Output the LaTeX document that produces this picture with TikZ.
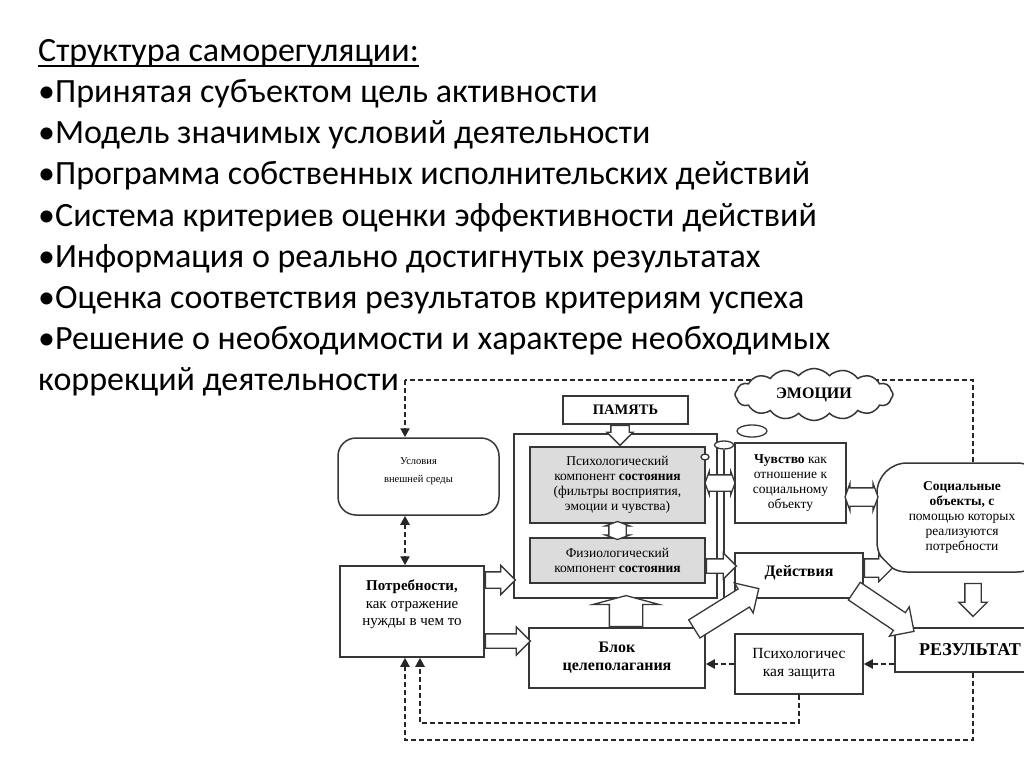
\documentclass[tikz,border=0pt]{standalone}
\usepackage{fontspec}
\setmainfont{Carlito}
\newfontfamily\dfont{Liberation Serif}
\usepackage{tikz}
\usetikzlibrary{positioning,arrows.meta,shapes.geometric,shapes.arrows,shapes.symbols,calc,backgrounds}
\definecolor{boxgray}{RGB}{55,55,55}
\definecolor{fillgray}{RGB}{220,220,220}
\newcommand\ultitle[1]{\setbox0\hbox{#1}\rlap{\rule[-5pt]{\wd0}{1.8pt}}\box0}

\begin{document}
\begin{tikzpicture}[x=1pt, y=-1pt, >={Triangle[length=9pt,width=9pt]},
  blk/.style={rectangle, draw=boxgray, line width=1.5pt, fill=white, align=center, inner sep=2pt, font=\dfont\fontsize{13.5}{15}\selectfont},
  greyblk/.style={blk, fill=fillgray},
  dashln/.style={draw=black!85, line width=2.2pt, dash pattern=on 5pt off 3pt},
  fatarr/.style={single arrow, draw=boxgray, line width=1.3pt, fill=white, inner xsep=0pt, anchor=tail},
  fatdarr/.style={double arrow, draw=boxgray, line width=1.3pt, fill=white, inner xsep=0pt, double arrow tip angle=140},
  smallell/.style={ellipse, draw=boxgray, line width=1.3pt, fill=white, inner sep=0pt}]
  \useasboundingbox (0,0) rectangle (1024,767);

  % text list
  \node[anchor=base west, inner sep=0pt, font=\fontsize{34}{41}\selectfont] (title) at (38,62) {\ultitle{Структура саморегуляции:}};
  \foreach \ln [count=\i] in {•Принятая субъектом цель активности, •Модель значимых условий деятельности, •Программа собственных исполнительских действий, •Система критериев оценки эффективности действий, •Информация о реально достигнутых результатах, •Оценка соответствия результатов критериям успеха, •Решение о необходимости и характере необходимых, коррекций деятельности}
    \node[anchor=base west, inner sep=0pt, font=\fontsize{34}{41}\selectfont] (line\i) at (38,62+41*\i) {\ln};

  % boxes
  \node[blk, rounded corners=18pt, minimum width=161, minimum height=77, font=\dfont\fontsize{10.5}{18}\selectfont] (usl) at (418.5,476.5) {Условия\\внешней среды\\[-6pt]\mbox{}};
  \node[blk, minimum width=125, minimum height=28, font=\dfont\bfseries\fontsize{14.5}{16}\selectfont] (pamyat) at (625.5,410) {ПАМЯТЬ};
  \node[blk, minimum width=203, minimum height=164] (sost) at (615.5,516) {};
  \node[greyblk, minimum width=175, minimum height=76] (psych) at (617.5,485) {Психологический\\компонент \textbf{состояния}\\(фильтры восприятия,\\эмоции и чувства)};
  \node[greyblk, minimum width=175, minimum height=45] (fiz) at (617.5,560.5) {Физиологический\\компонент \textbf{состояния}};
  \node[blk, minimum width=144, minimum height=91, font=\dfont\fontsize{15}{17.5}\selectfont] (potr) at (412,611.5) {\textbf{Потребности,}\\как отражение\\нужды в чем то\\\mbox{}};
  \node[blk, minimum width=176, minimum height=60, font=\dfont\bfseries\fontsize{16}{18}\selectfont] (blok) at (617,658) {Блок\\целеполагания};
  \node[blk, minimum width=111, minimum height=80] (chuv) at (790.5,483) {\textbf{Чувство} как\\отношение к\\социальному\\объекту};
  \node[blk, minimum width=128, minimum height=45, font=\dfont\bfseries\fontsize{16}{18}\selectfont] (deyst) at (799,575.5) {Действия\\[-8pt]\mbox{}};
  \node[blk, minimum width=128, minimum height=60, font=\dfont\fontsize{15.5}{18}\selectfont] (zash) at (799,664) {Психологичес\\кая защита};
  \node[blk, rounded corners=30pt, minimum width=170, minimum height=109] (soc) at (962,517.5) {\textbf{Социальные}\\\textbf{объекты, с}\\помощью которых\\реализуются\\потребности};
  \node[blk, minimum width=150, minimum height=44, font=\dfont\bfseries\fontsize{18}{20}\selectfont] (rez) at (970,650) {РЕЗУЛЬТАТ};
  \node[cloud, draw=boxgray, line width=1.5pt, fill=white, cloud puffs=16, cloud puff arc=100, aspect=3.2, minimum width=158, minimum height=52, inner sep=0pt, font=\dfont\bfseries\fontsize{16}{18}\selectfont] (emo) at (814,394.5) {ЭМОЦИИ};
  \node[smallell, minimum width=30, minimum height=12] (bub) at (752,431) {};
  \node[smallell, minimum width=19, minimum height=8] (cap) at (724,445) {};
  \node[smallell, minimum width=8, minimum height=6] (knot) at (705,457) {};
  \draw[boxgray, line width=1.3pt] (cap.south) -- (cap.south |- sost.south);

  % block arrows
  \node[fatarr, rotate=270, minimum height=20, inner ysep=8.5pt, single arrow head extend=4] (a1) at ([xshift=-5.5pt]pamyat.south) {};
  \node[fatdarr, rotate=90, minimum height=18, inner ysep=8pt, double arrow head extend=3.5] (a2) at ($(psych.south)!0.5!(fiz.north)$) {};
  \node[fatarr, minimum height=30, inner ysep=7.5pt, single arrow head extend=6.5] (a3) at ([yshift=31.5pt]potr.east) {};
  \node[fatarr, minimum height=45, inner ysep=6.5pt, single arrow head extend=7] (a4) at ([yshift=-29.5pt]potr.east) {};
  \node[fatarr, rotate=90, minimum height=31, inner ysep=16pt, single arrow head extend=16.5, single arrow tip angle=150] (a5) at ([xshift=9pt]blok.north) {};
  \node[fatarr, minimum height=30, inner ysep=6.5pt, single arrow head extend=6] (a6) at ([yshift=-5.5pt]fiz.east) {};
  \node[fatarr, minimum height=28, inner ysep=8.5pt, single arrow head extend=4.5] (a7) at ([yshift=7.5pt]deyst.east) {};
  \node[fatdarr, minimum height=33, inner ysep=8.5pt, double arrow head extend=4.5] (a8) at ($(chuv.east)!0.5!(chuv.east -| soc.west) + (0,14)$) {};
  \node[fatdarr, minimum height=30, inner ysep=7.5pt, double arrow head extend=3.5] (a9) at ($(chuv.west)!0.5!(chuv.west -| psych.east)$) {};
  \node[fatarr, rotate=32, minimum height=76, inner ysep=10pt, single arrow head extend=7] (a10) at ([xshift=-12pt,yshift=-2pt]blok.north east) {};
  \node[fatarr, rotate=-34, minimum height=72, inner ysep=10pt, single arrow head extend=7] (a11) at ([xshift=-10pt,yshift=8pt]deyst.south east) {};
  \node[fatarr, rotate=270, minimum height=33, inner ysep=7.5pt, single arrow head extend=6] (a12) at ([xshift=11pt,yshift=-10pt]soc.south) {};

  % feedback lines
  \begin{scope}[on background layer]
    \coordinate (tl) at (405,380);
    \coordinate (tr) at (973,380);
    \coordinate (bl) at (405,740);
    \coordinate (br) at (973,740);
    \coordinate (bl2) at (420,723);
    \draw[dashln] (tr |- soc.north) -- (tr) -- (tl);
    \draw[dashln, ->] (tl) -- (tl |- usl.north);
    \draw[dashln, <->] (tl |- usl.south) -- (tl |- potr.north);
    \draw[dashln, ->] (rez.south -| br) -- (br) -- (bl) -- (bl |- potr.south);
    \draw[dashln, ->] (zash.south) -- (zash.south |- bl2) -- (bl2) -- (bl2 |- potr.south);
    \draw[dashln, ->] (rez.west |- zash.east) -- (zash.east);
    \draw[dashln, ->] (zash.west) -- (zash.west -| blok.east);
  \end{scope}
\end{tikzpicture}
\end{document}
